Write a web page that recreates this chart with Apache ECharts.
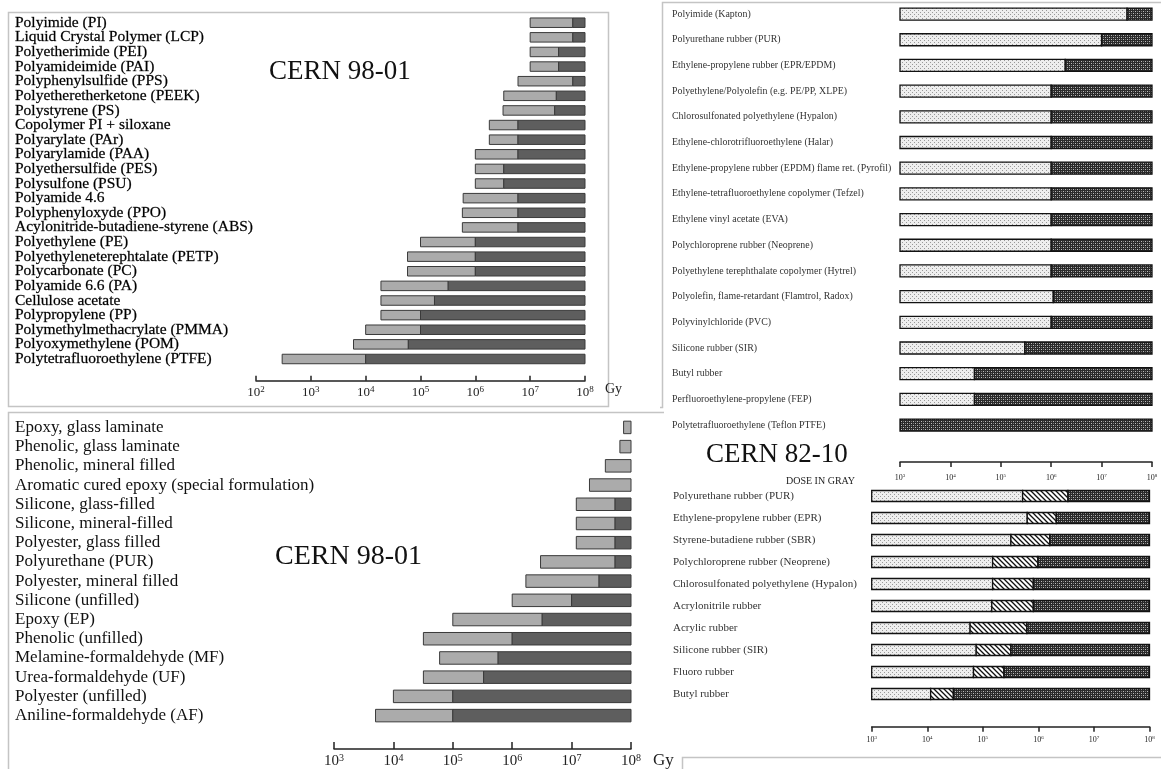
<!DOCTYPE html>
<html><head><meta charset="utf-8">
<script src="https://cdn.jsdelivr.net/npm/echarts@6.0.0/dist/echarts.min.js"></script>
<style>html,body{margin:0;padding:0;background:#fff}#c{width:1161px;height:769px}</style>
</head><body><div id="c"></div>
<script>
// ---------- DATA ----------
var tlCategories = ['Polyimide (PI)','Liquid Crystal Polymer (LCP)','Polyetherimide (PEI)','Polyamideimide (PAI)','Polyphenylsulfide (PPS)','Polyetheretherketone (PEEK)','Polystyrene (PS)','Copolymer PI + siloxane','Polyarylate (PAr)','Polyarylamide (PAA)','Polyethersulfide (PES)','Polysulfone (PSU)','Polyamide 4.6','Polyphenyloxyde (PPO)','Acylonitride-butadiene-styrene (ABS)','Polyethylene (PE)','Polyethyleneterephtalate (PETP)','Polycarbonate (PC)','Polyamide 6.6 (PA)','Cellulose acetate','Polypropylene (PP)','Polymethylmethacrylate (PMMA)','Polyoxymethylene (POM)','Polytetrafluoroethylene (PTFE)'];
var tlStart = [1e7,1e7,1e7,1e7,6e6,3.3e6,3.2e6,1.8e6,1.8e6,1e6,1e6,1e6,6e5,5.8e5,5.8e5,1e5,5.8e4,5.8e4,1.9e4,1.9e4,1.9e4,1e4,6e3,3e2];
var tlSplit = [6e7,6e7,3.3e7,3.3e7,6e7,3e7,2.8e7,6e6,6e6,6e6,3.3e6,3.3e6,6e6,6e6,6e6,1e6,1e6,1e6,3.2e5,1.8e5,1e5,1e5,6e4,1e4];
var tlEnd = [1e8,1e8,1e8,1e8,1e8,1e8,1e8,1e8,1e8,1e8,1e8,1e8,1e8,1e8,1e8,1e8,1e8,1e8,1e8,1e8,1e8,1e8,1e8,1e8];

var blCategories = ['Epoxy, glass laminate','Phenolic, glass laminate','Phenolic, mineral filled','Aromatic cured epoxy (special formulation)','Silicone, glass-filled','Silicone, mineral-filled','Polyester, glass filled','Polyurethane (PUR)','Polyester, mineral filled','Silicone (unfilled)','Epoxy (EP)','Phenolic (unfilled)','Melamine-formaldehyde (MF)','Urea-formaldehyde (UF)','Polyester (unfilled)','Aniline-formaldehyde (AF)'];
var blStart = [7.5e7,6.5e7,3.7e7,2e7,1.2e7,1.2e7,1.2e7,3e6,1.7e6,1e6,1e5,3.2e4,6e4,3.2e4,1e4,5e3];
var blSplit = [1e8,1e8,1e8,1e8,5.4e7,5.4e7,5.4e7,5.4e7,2.9e7,1e7,3.2e6,1e6,5.8e5,3.3e5,1e5,1e5];
var blEnd = [1e8,1e8,1e8,1e8,1e8,1e8,1e8,1e8,1e8,1e8,1e8,1e8,1e8,1e8,1e8,1e8];

var rtCategories = ['Polyimide (Kapton)','Polyurethane rubber (PUR)','Ethylene-propylene rubber (EPR/EPDM)','Polyethylene/Polyolefin (e.g. PE/PP, XLPE)','Chlorosulfonated polyethylene (Hypalon)','Ethylene-chlorotrifluoroethylene (Halar)','Ethylene-propylene rubber (EPDM) flame ret. (Pyrofil)','Ethylene-tetrafluoroethylene copolymer (Tefzel)','Ethylene vinyl acetate (EVA)','Polychloroprene rubber (Neoprene)','Polyethylene terephthalate copolymer (Hytrel)','Polyolefin, flame-retardant (Flamtrol, Radox)','Polyvinylchloride (PVC)','Silicone rubber (SIR)','Butyl rubber','Perfluoroethylene-propylene (FEP)','Polytetrafluoroethylene (Teflon PTFE)'];
var rtStart = [1e3,1e3,1e3,1e3,1e3,1e3,1e3,1e3,1e3,1e3,1e3,1e3,1e3,1e3,1e3,1e3,1e3];
var rtSplit = [3.2e7,1e7,1.9e6,1e6,1e6,1e6,1e6,1e6,1e6,1e6,1e6,1.1e6,1e6,3e5,3e4,3e4,1e3];
var rtEnd = [1e8,1e8,1e8,1e8,1e8,1e8,1e8,1e8,1e8,1e8,1e8,1e8,1e8,1e8,1e8,1e8,1e8];

var rbCategories = ['Polyurethane rubber (PUR)','Ethylene-propylene rubber (EPR)','Styrene-butadiene rubber (SBR)','Polychloroprene rubber (Neoprene)','Chlorosulfonated polyethylene (Hypalon)','Acrylonitrile rubber','Acrylic rubber','Silicone rubber (SIR)','Fluoro rubber','Butyl rubber'];
var rbStart = [1e3,1e3,1e3,1e3,1e3,1e3,1e3,1e3,1e3,1e3];
var rbSplit1 = [5.2e5,6.3e5,3.2e5,1.5e5,1.5e5,1.45e5,5.9e4,7.6e4,6.8e4,1.15e4];
var rbSplit2 = [3.4e6,2.1e6,1.6e6,9.8e5,8.1e5,8.1e5,6.2e5,3.2e5,2.4e5,2.95e4];
var rbEnd = [1e8,1e8,1e8,1e8,1e8,1e8,1e8,1e8,1e8,1e8];

// ---------- STYLE HELPERS ----------
function pat(w, h, draw) {
  var c = document.createElement('canvas'); c.width = w; c.height = h;
  var g = c.getContext('2d'); draw(g); return {image: c, repeat: 'repeat'};
}
var stipple = pat(4, 4, function (g) {
  g.fillStyle = '#eeeeee'; g.fillRect(0, 0, 4, 4);
  g.fillStyle = '#999'; g.fillRect(0, 0, 1, 1); g.fillRect(2, 2, 1, 1);
});
var cross = pat(4, 4, function (g) {
  g.fillStyle = '#2a2a2a'; g.fillRect(0, 0, 4, 4);
  g.fillStyle = '#bdbdbd'; g.fillRect(1, 1, 1, 1); g.fillRect(3, 3, 1, 1);
  g.fillStyle = '#777'; g.fillRect(3, 1, 1, 1); g.fillRect(1, 3, 1, 1);
});
var hatch = pat(5, 5, function (g) {
  g.fillStyle = '#ffffff'; g.fillRect(0, 0, 5, 5);
  g.strokeStyle = '#111'; g.lineWidth = 1.3;
  g.beginPath(); g.moveTo(-1, -1); g.lineTo(6, 6); g.moveTo(-1, 4); g.lineTo(1, 6); g.moveTo(4, -1); g.lineTo(6, 1); g.stroke();
});

function rows(starts, splitsList, ends) {
  return starts.map(function (s, i) {
    var r = [i, s];
    splitsList.forEach(function (sp) { r.push(sp[i]); });
    r.push(ends[i]); return r;
  });
}
function renderer(fills, stroke, lw, h) {
  return function (params, api) {
    var cat = api.value(0);
    var n = params.encode.x.length;
    var kids = [];
    for (var k = 0; k < n - 1; k++) {
      var a = api.value(k + 1), b = api.value(k + 2);
      if (!(b > a)) continue;
      var p0 = api.coord([a, cat]), p1 = api.coord([b, cat]);
      kids.push({type: 'rect', shape: {x: p0[0], y: p0[1] - h / 2, width: p1[0] - p0[0], height: h},
        style: {fill: fills[k], stroke: stroke, lineWidth: lw}});
    }
    return {type: 'group', children: kids};
  };
}
var serif = 'Liberation Serif';
function powFmt(v) { var e = Math.round(Math.log10(v)); return '{b|10}{s|' + e + '}'; }
function rich(bs, ss, col) {
  return {b: {fontSize: bs, fontFamily: serif, color: col, lineHeight: bs + 2},
          s: {fontSize: ss, fontFamily: serif, color: col, verticalAlign: 'top', lineHeight: ss}};
}

var chart = echarts.init(document.getElementById('c'), null, {renderer: 'canvas'});

var grids = [
  {left: 256, width: 329, top: 15.4, height: 350.9},
  {left: 334, width: 297, top: 417.8, height: 309.1},
  {left: 900, width: 252, top: 1.2, height: 436.7},
  {left: 871.7, width: 277.8, top: 485, height: 220}
];

function xAx(i, min, max, opt) {
  return {
    type: 'log', gridIndex: i, logBase: 10, min: min, max: max, interval: 1,
    offset: opt.offset, splitLine: {show: false}, minorTick: {show: false},
    axisLine: {show: true, onZero: false, lineStyle: {color: '#222', width: opt.lw}},
    axisTick: {show: true, inside: opt.inside, length: opt.tl, lineStyle: {color: '#222', width: opt.lw}},
    axisLabel: {formatter: powFmt, margin: opt.margin, rich: rich(opt.bs, opt.ss, '#222')},
    name: opt.name || '', nameLocation: 'end', nameGap: opt.nameGap || 0,
    nameTextStyle: {fontFamily: serif, fontSize: opt.nfs || (opt.bs + 2), color: '#222', verticalAlign: 'top', padding: [opt.namePad || 0, 0, 0, 0]}
  };
}
function yAx(i, cats, margin, fs, col, extra) {
  var lab = {interval: 0, align: 'left', margin: margin, fontFamily: serif, fontSize: fs, color: col};
  if (extra) { for (var k in extra) lab[k] = extra[k]; }
  return {type: 'category', gridIndex: i, data: cats, inverse: true,
    axisLine: {show: false}, axisTick: {show: false}, splitLine: {show: false},
    axisLabel: lab};
}

var option = {
  animation: false,
  backgroundColor: '#fff',
  grid: grids,
  xAxis: [
    xAx(0, 1e2, 1e8, {offset: 14.4, lw: 1.5, inside: true, tl: 5, margin: 4, bs: 13, ss: 9, name: 'Gy', nfs: 14, nameGap: 20, namePad: 2}),
    xAx(1, 1e3, 1e8, {offset: 23.8, lw: 1.5, inside: true, tl: 7, margin: 4, bs: 15, ss: 10, name: 'Gy', nameGap: 22, namePad: 3}),
    xAx(2, 1e3, 1e8, {offset: 24, lw: 1.5, inside: false, tl: 5, margin: 11, bs: 8, ss: 5}),
    xAx(3, 1e3, 1e8, {offset: 21.7, lw: 1.5, inside: false, tl: 5, margin: 8, bs: 8, ss: 5})
  ],
  yAxis: [
    yAx(0, tlCategories, 241, 15.5, '#000', {textBorderColor: '#444', textBorderWidth: 0.3}),
    yAx(1, blCategories, 319, 17, '#111'),
    yAx(2, rtCategories, 228, 9.9, '#333'),
    yAx(3, rbCategories, 198.7, 11, '#333')
  ],
  graphic: [
    {type: 'rect', z: 0, shape: {x: 8.5, y: 12.5, width: 600, height: 394}, style: {fill: 'none', stroke: '#c4c4c4', lineWidth: 1.5}},
    {type: 'polyline', z: 0, shape: {points: [[8.5, 769], [8.5, 412.5], [664, 412.5]]}, style: {fill: 'none', stroke: '#c4c4c4', lineWidth: 1.5}},
    {type: 'polyline', z: 0, shape: {points: [[660, 407.5], [662.5, 407.5], [662.5, 2.5], [1161, 2.5]]}, style: {fill: 'none', stroke: '#c4c4c4', lineWidth: 1.5}},
    {type: 'polyline', z: 0, shape: {points: [[682.5, 769], [682.5, 757.5], [1161, 757.5]]}, style: {fill: 'none', stroke: '#c4c4c4', lineWidth: 1.5}},
    {type: 'text', left: 339 - 70, top: 74 - 16, style: {text: 'CERN 98-01', fontFamily: serif, fontSize: 27, fill: '#111'}},
    {type: 'text', left: 350 - 75, top: 560 - 17, style: {text: 'CERN 98-01', fontFamily: serif, fontSize: 28, fill: '#111'}},
    {type: 'text', left: 776 - 70, top: 457 - 16, style: {text: 'CERN 82-10', fontFamily: serif, fontSize: 27, fill: '#111'}},
    {type: 'text', left: 786, top: 476, style: {text: 'DOSE IN GRAY', fontFamily: serif, fontSize: 10, fill: '#222'}}
  ],
  series: [
    {type: 'custom', xAxisIndex: 0, yAxisIndex: 0, renderItem: renderer(['#ababab', '#5e5e5e'], '#3a3a3a', 1, 9.5),
      encode: {x: [1, 2, 3], y: 0}, data: rows(tlStart, [tlSplit], tlEnd)},
    {type: 'custom', xAxisIndex: 1, yAxisIndex: 1, renderItem: renderer(['#ababab', '#5e5e5e'], '#3a3a3a', 1, 12.5),
      encode: {x: [1, 2, 3], y: 0}, data: rows(blStart, [blSplit], blEnd)},
    {type: 'custom', xAxisIndex: 2, yAxisIndex: 2, renderItem: renderer([stipple, cross], '#111', 1.3, 12),
      encode: {x: [1, 2, 3], y: 0}, data: rows(rtStart, [rtSplit], rtEnd)},
    {type: 'custom', xAxisIndex: 3, yAxisIndex: 3, renderItem: renderer([stipple, hatch, cross], '#111', 1.3, 11),
      encode: {x: [1, 2, 3, 4], y: 0}, data: rows(rbStart, [rbSplit1, rbSplit2], rbEnd)}
  ]
};
chart.setOption(option);
</script>
</body></html>
